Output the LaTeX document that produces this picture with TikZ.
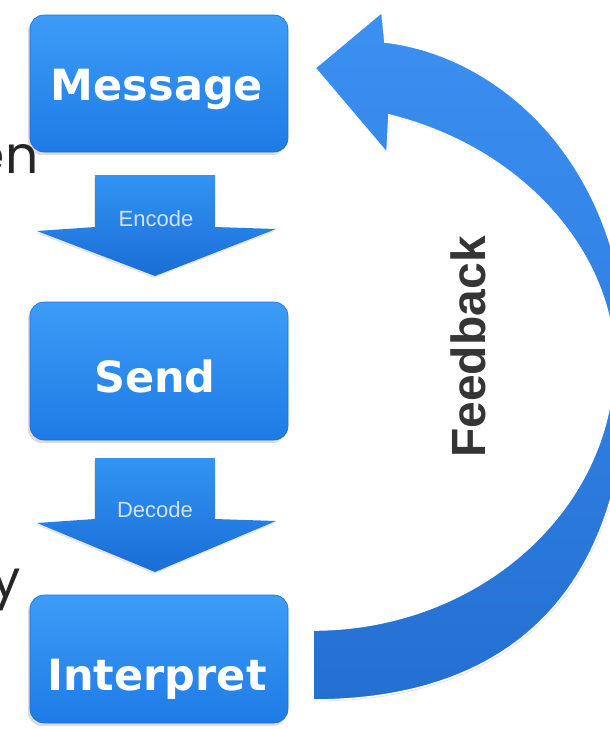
\documentclass[tikz,border=0pt]{standalone}
\usepackage{fontspec}
\usetikzlibrary{shadows}
\newfontfamily\boxfont{DejaVu Sans}
\newfontfamily\arialfont{Liberation Sans}
\newfontfamily\bgfont{Poppins}
\definecolor{boxtop}{HTML}{3D9CF7}
\definecolor{boxbot}{HTML}{1E7BE6}
\definecolor{boxedge}{HTML}{1A6ED6}
\definecolor{arrtop}{HTML}{3294F4}
\definecolor{arrbot}{HTML}{1A6DD6}
\definecolor{fbtop}{HTML}{3B90F2}
\definecolor{fbbot}{HTML}{2470D2}
\definecolor{labgray}{HTML}{D4E0EE}
\definecolor{fbtext}{HTML}{353535}
\begin{document}
\begin{tikzpicture}[x=1pt,y=-1pt,
  bluebox/.style={rectangle, rounded corners=14pt, inner sep=0pt,
    minimum width=258pt, top color=boxtop, bottom color=boxbot,
    draw=boxedge, line width=0.6pt,
    drop shadow={shadow xshift=-2pt, shadow yshift=-3pt, opacity=0.28}},
  boxtext/.style={text=white, font=\boxfont\bfseries\fontsize{43}{50}\selectfont, anchor=base},
  downarrow/.style={top color=arrtop, bottom color=arrbot,
    drop shadow={shadow xshift=-1pt, shadow yshift=-2pt, opacity=0.2}},
  arrtext/.style={text=labgray, font=\arialfont\fontsize{22}{26}\selectfont},
  fbarrow/.style={top color=fbtop, bottom color=fbbot, draw=white, line width=1.6pt,
    drop shadow={shadow xshift=1pt, shadow yshift=-1.5pt, opacity=0.22}},
  bgtext/.style={text=black!85, font=\bgfont\fontsize{52}{60}\selectfont, anchor=base east}
]
\useasboundingbox (0,0) rectangle (610,729);
\clip (0,0) rectangle (610,729);
\fill[white] (0,0) rectangle (610,729);

% feedback arrow
\path[fbarrow] (313,630)
  .. controls (479,630) and (614,509) .. (614,360)
  .. controls (614,260) and (530,150) .. (389,115)
  -- (387,153) -- (315,68) -- (382,12) -- (385,42)
  .. controls (500,55) and (628,165) .. (628,365)
  .. controls (628,583) and (518,700) .. (313,700)
  -- cycle;

% boxes
\node[bluebox, minimum height=137pt] (msg) at (159,83.5) {};
\node[bluebox, minimum height=138pt] (send) at (159,371) {};
\node[bluebox, minimum height=128pt] (interp) at (159,659) {};

% block arrows
\path[downarrow] (95,175) -- (215,175) -- (215,227) -- (276,229) -- (155,276) -- (37,231) -- (95,227) -- cycle;
\path[downarrow] (95,458) -- (215,458) -- (215,519) -- (276,521) -- (155,572) -- (37,523) -- (95,519) -- cycle;

% texts
\node[boxtext] (msgt) at (157,100) {Message};
\node[boxtext] (sendt) at (155,392) {Send};
\node[boxtext] (interpt) at (157,690) {Interpret};
\node[arrtext] (enc) at (156,219) {Encode};
\node[arrtext] (dec) at (155,510) {Decode};
\node[text=fbtext, font=\arialfont\bfseries\fontsize{48}{56}\selectfont, rotate=90] (fb) at (468,347) {Feedback};

% partial background texts
\node[bgtext] (bg1) at (42,173) {en};
\node[bgtext] (bg2) at (24,597) {y};
\end{tikzpicture}
\end{document}
